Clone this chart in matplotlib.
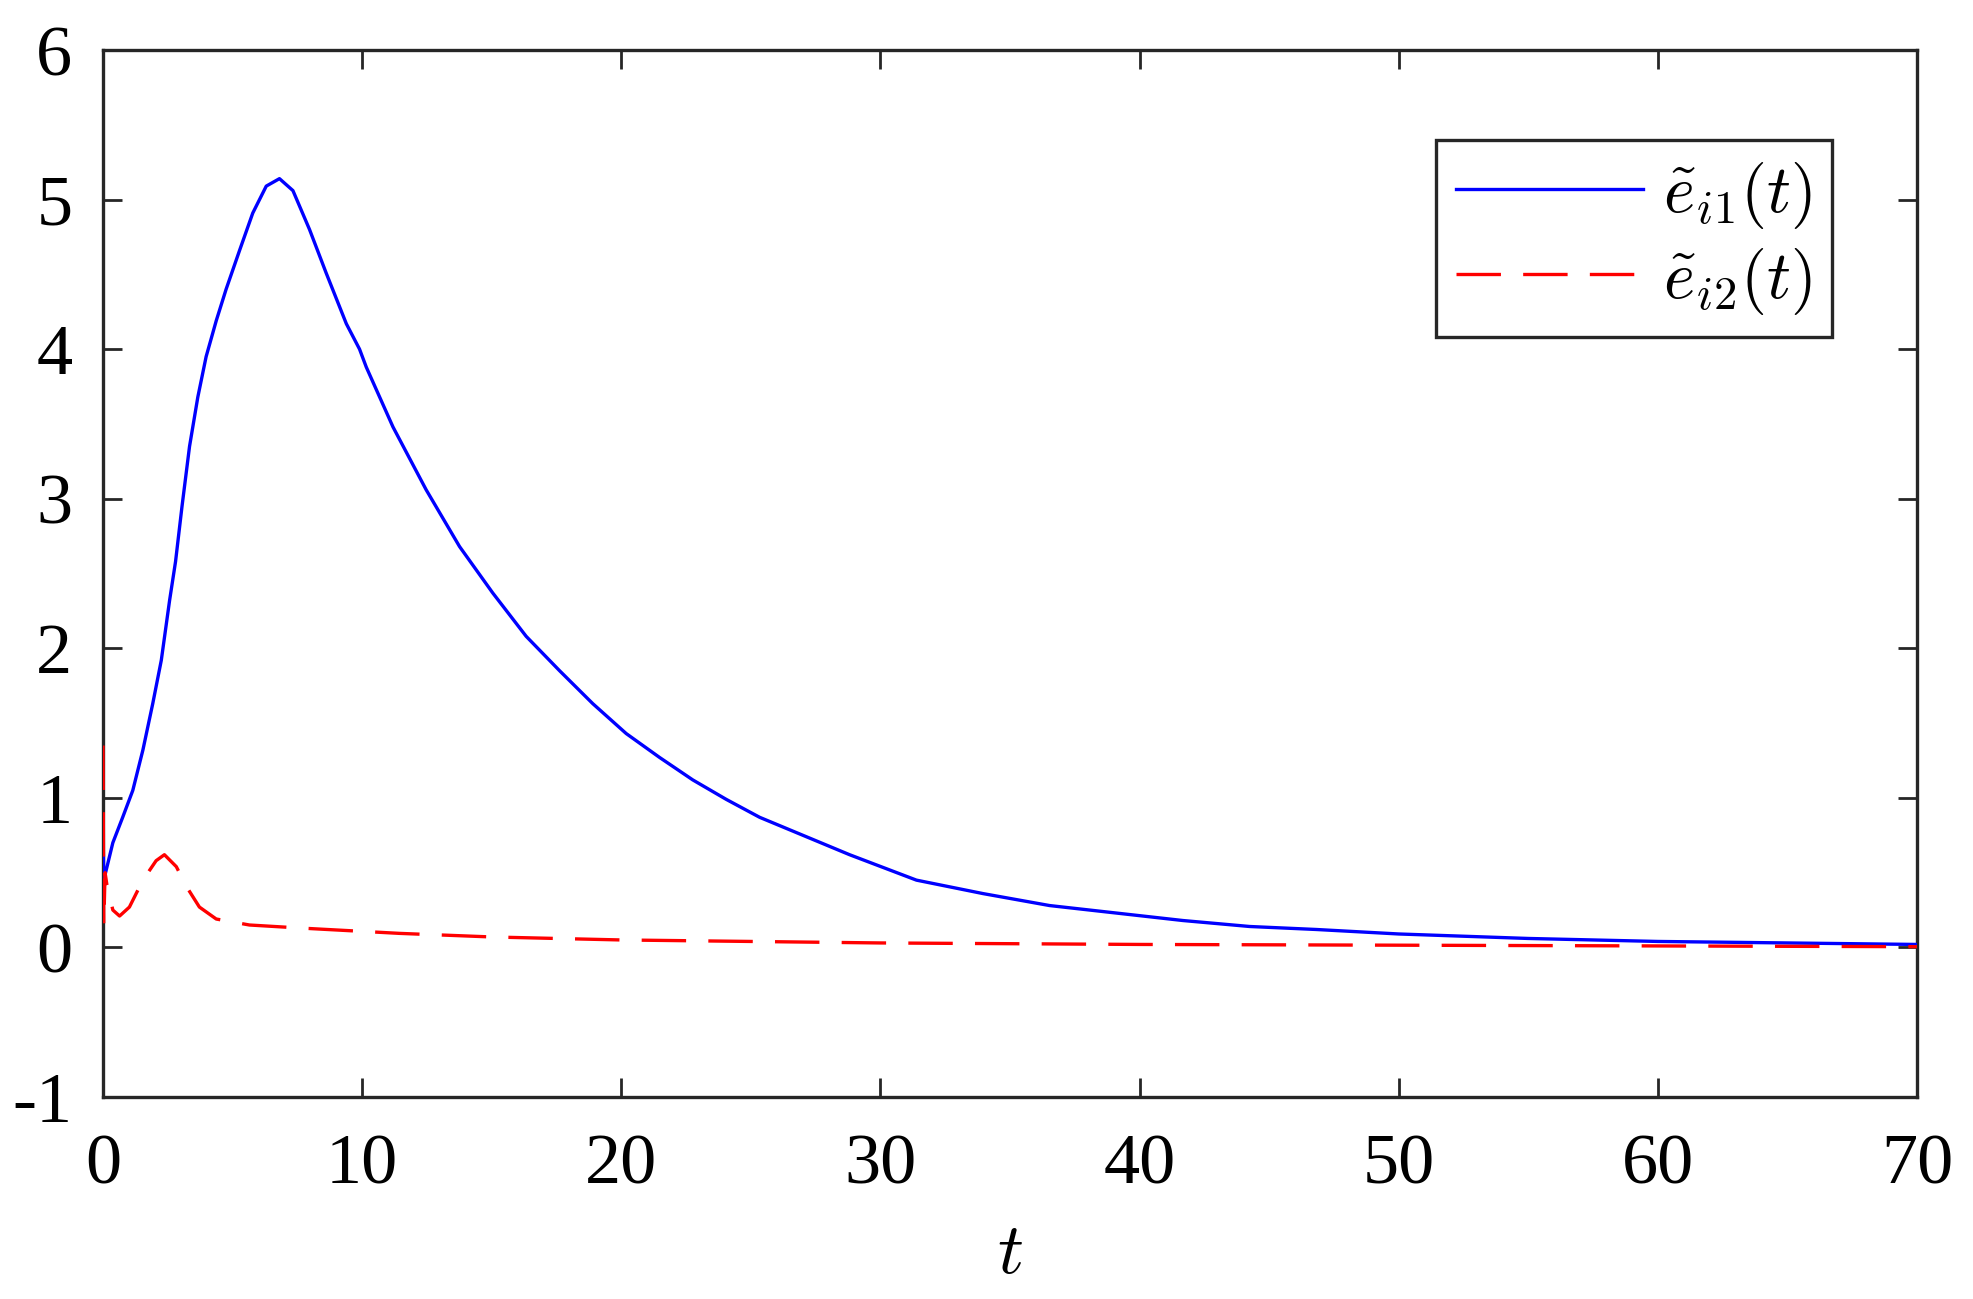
import matplotlib
matplotlib.use("Agg")
import matplotlib.pyplot as plt

# values
t_e1 = [0, 0.03, 0.38, 0.76, 1.15, 1.54, 1.92, 2.25, 2.57, 2.80, 3.05, 3.34, 3.66,
        3.98, 4.37, 4.75, 5.27, 5.78, 6.30, 6.81, 7.33, 7.97, 8.61, 9.39, 9.90,
        10.16, 11.19, 12.47, 13.76, 15.04, 16.33, 17.62, 18.90, 20.19, 21.48,
        22.76, 24.05, 25.34, 28.81, 31.39, 33.96, 36.53, 39.10, 41.67, 44.25,
        46.82, 50, 55, 60, 65, 70]
e1 = [0.82, 0.45, 0.70, 0.87, 1.05, 1.32, 1.63, 1.92, 2.32, 2.58, 2.95, 3.35, 3.68,
      3.95, 4.19, 4.40, 4.66, 4.91, 5.09, 5.14, 5.06, 4.80, 4.51, 4.17, 4.00,
      3.88, 3.48, 3.06, 2.68, 2.37, 2.08, 1.85, 1.63, 1.43, 1.27,
      1.12, 0.99, 0.87, 0.62, 0.45, 0.36, 0.28, 0.23, 0.18, 0.14,
      0.12, 0.09, 0.06, 0.04, 0.03, 0.02]

t_e2 = [0, 0.03, 0.08, 0.15, 0.38, 0.64, 1.02, 1.54, 2.05, 2.37, 2.83, 3.21, 3.72,
        4.37, 5.65, 7.58, 11.44, 15, 20, 30, 40, 50, 60, 70]
e2 = [1.35, 0.15, 0.50, 0.42, 0.25, 0.21, 0.27, 0.45, 0.58, 0.62, 0.54, 0.41, 0.27,
      0.19, 0.15, 0.13, 0.094, 0.07, 0.05, 0.03, 0.02, 0.015, 0.01, 0.005]

xticks = [0, 10, 20, 30, 40, 50, 60, 70]
yticks = [-1, 0, 1, 2, 3, 4, 5, 6]

plt.rcParams['font.family'] = ['Liberation Serif', 'DejaVu Serif']
plt.rcParams['mathtext.fontset'] = 'cm'
plt.rcParams['lines.scale_dashes'] = False

fig = plt.figure(figsize=(19.73, 12.99), dpi=100)
ax = fig.add_axes([0.0522, 0.1555, 0.9194, 0.806])

ax.plot(t_e1, e1, color='#0000ff', lw=2.4, zorder=3, label=r'$\tilde{e}_{i1}(t)$')
ax.plot(t_e2, e2, color='#ff0000', lw=2.4, dashes=(32, 16), zorder=3,
        label=r'$\tilde{e}_{i2}(t)$')

ax.set_xlim(0, 70)
ax.set_ylim(-1, 6)
ax.set_xticks(xticks)
ax.set_yticks(yticks)
ax.set_yticklabels([str(v) for v in yticks])
ax.tick_params(direction='in', length=14, width=2, labelsize=52, color='#262626',
               top=True, right=True, pad=22)
ax.tick_params(axis='x', pad=26)
for s in ax.spines.values():
    s.set_linewidth(2.4)
    s.set_color('#262626')

ax.set_xlabel(r'$t$', fontsize=52, labelpad=18)

leg = ax.legend(loc='upper right', bbox_to_anchor=(0.953, 0.914), fontsize=48,
                handlelength=2.8, handletextpad=0.3, borderpad=0.3, labelspacing=0.22,
                fancybox=False, framealpha=1, borderaxespad=0)
leg.get_frame().set_edgecolor('#262626')
leg.get_frame().set_linewidth(2.4)

fig.savefig('out.png', dpi=100)
